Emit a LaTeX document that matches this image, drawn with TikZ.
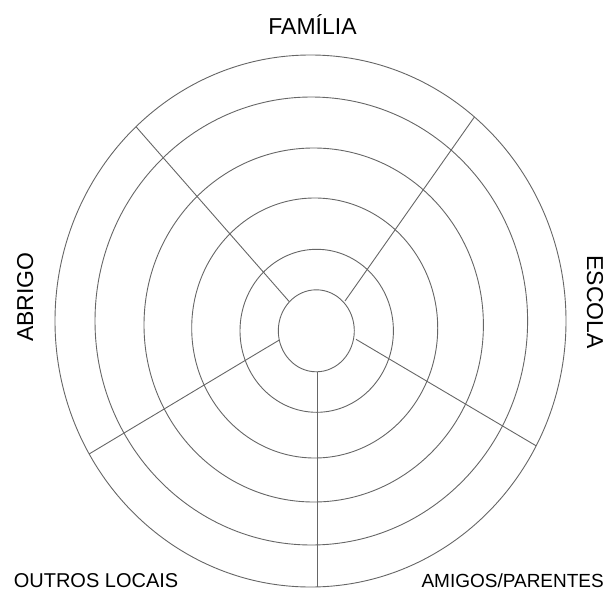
\documentclass[tikz,border=0pt]{standalone}
\usepackage{fontspec}
\setmainfont{Liberation Sans}
\usetikzlibrary{calc}
\tikzset{ring/.style={draw=black!60,line width=.9pt}}
\tikzset{spoke/.style={draw=black!60,line width=.9pt}}
\tikzset{biglbl/.style={font=\fontsize{23}{27}\selectfont,inner sep=0pt}}
\tikzset{smalllbl/.style={font=\fontsize{19}{23}\selectfont,inner sep=0pt}}
\begin{document}
\begin{tikzpicture}[x=1pt,y=-1pt]
\useasboundingbox(0,0)rectangle(610,591);
\draw[ring](316.3,330.8)ellipse[x radius=38,y radius=41];\draw[ring](316.7,330.8)ellipse[x radius=76.7,y radius=81.5];
\draw[ring](314.7,328)ellipse[x radius=123,y radius=130];\draw[ring](313.7,325)ellipse[x radius=169.7,y radius=177];
\draw[ring](311.3,321)ellipse[x radius=216.3,y radius=224];\draw[ring](310.5,321)ellipse[x radius=255.5,y radius=266];
\coordinate(ulA)at(289.3,301.7);\coordinate(ulB)at(136,126.7);
\coordinate(urA)at(345,301);\coordinate(urB)at(474.4,117);
\coordinate(rA)at(356,339.3);\coordinate(rB)at(536.1,445.8);
\coordinate(lA)at(279.3,340);\coordinate(lB)at(89.2,453.9);
\coordinate(bA)at(317,371.7);\coordinate(bB)at(317,586.7);
\draw[spoke](ulA)--(ulB);\draw[spoke](urA)--(urB);\draw[spoke](rA)--(rB);\draw[spoke](lA)--(lB);\draw[spoke](bA)--(bB);
\node[biglbl,anchor=base](familia)at(312.5,35){FAMÍLIA};
\node[biglbl,anchor=base,rotate=90](abrigo)at(33,297){ABRIGO};
\node[biglbl,anchor=base,rotate=-90](escola)at(587,302){ESCOLA};
\node[smalllbl,anchor=base west,font=\fontsize{20}{24}\selectfont](outros)at(13.6,587){OUTROS LOCAIS};
\node[smalllbl,anchor=base east](amigos)at(604,587){AMIGOS/PARENTES};
\end{tikzpicture}
\end{document}
